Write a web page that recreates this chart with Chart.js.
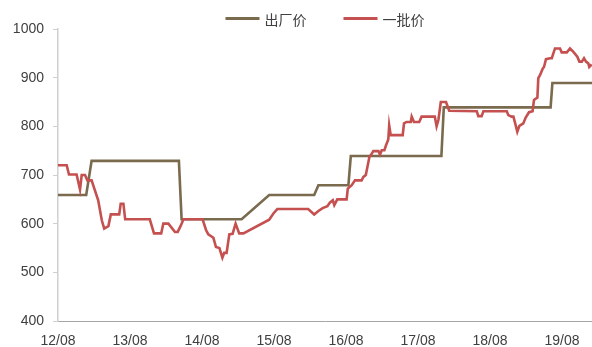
<!DOCTYPE html>
<html>
<head>
<meta charset="utf-8">
<script src="https://cdn.jsdelivr.net/npm/chart.js@4.4.1/dist/chart.umd.min.js"></script>
<style>
  html, body { margin: 0; padding: 0; background: #ffffff; }
  #wrap { width: 592px; height: 347px; }
</style>
</head>
<body>
<div id="wrap"><canvas id="c" width="592" height="347"></canvas></div>
<script>
// Series names shown in the legend
const seriesNames = ['出厂价', '一批价'];

// X-axis labels (yy/mm), one every 12 months starting 2012-08
const tickLabels = ['12/08', '13/08', '14/08', '15/08', '16/08', '17/08', '18/08', '19/08'];
const yTicks = [400, 500, 600, 700, 800, 900, 1000];

// 出厂价: months elapsed since 2012-08, price
const factoryMonths = [0, 4.7, 5.6, 20.15, 20.6, 30.6, 35.2, 42.7, 43.4, 48.4, 48.8, 63.9, 64.3, 82.1, 82.4, 89];
const factoryPrice  = [659, 659, 729, 729, 609, 609, 659, 659, 679, 679, 739, 739, 839, 839, 889, 889];

// 一批价: months elapsed since 2012-08, price
const wholesaleMonths = [
  0, 1.45, 1.83, 3.1, 3.67, 3.95, 4.5, 4.9, 5.6, 6.7, 7.3, 7.7, 8.4, 8.8, 10.2, 10.45, 10.9, 11.2,
  15.3, 16, 17.2, 17.55, 18.4, 19.5, 19.95, 20.5, 20.9,
  24.1, 24.67, 25.05, 25.9, 26.33, 26.9, 27.4, 27.7, 28.1, 28.55, 29.1, 29.6, 30.2, 30.9,
  35.2, 35.9, 36.55, 41.7, 42.7, 43.4, 44.1, 44.9, 45.3, 45.8,
  46.05, 46.55, 48.1, 48.3, 48.95, 49.5, 50.6, 50.9, 51.3, 51.9,
  52.2, 52.55, 53.4, 53.67, 53.95, 54.4, 54.67, 55.05, 55.2, 55.45,
  57.45, 57.67, 58.1, 58.8, 58.95, 59.33, 60.2, 60.6, 62.8, 63.1,
  63.4, 63.8, 64.67, 65.2, 69.8, 70.05, 70.6, 70.9, 74.8, 75.05,
  75.6, 75.9, 76.2, 76.55, 76.9, 77.55, 77.95, 78.5, 79.1, 79.33,
  79.9, 80.05, 80.33, 80.8, 81, 81.33, 82, 82.3, 82.83, 83.67,
  83.95, 84.8, 85.33, 85.9, 86.55, 86.9, 87.3, 87.67, 88, 88.4,
  88.55, 88.95
];
const wholesalePrice = [
  720, 720, 701, 701, 670, 700, 700, 689, 689, 648, 607, 590, 595, 619, 619, 641, 641, 609,
  609, 580, 580, 600, 600, 583, 583, 597, 609,
  609, 587, 578, 571, 552, 550, 530, 540, 540, 578, 579, 600, 580, 580,
  608, 621, 630, 630, 619, 626, 632, 636, 643, 648,
  638, 650, 650, 672, 679, 689, 689, 696, 700, 737,
  742, 749, 749, 742, 751, 751, 761, 773, 802, 782,
  782, 806, 809, 809, 820, 809, 809, 820, 820, 800,
  813, 850, 850, 832, 831, 821, 821, 831, 831, 823,
  820, 820, 806, 789, 801, 806, 818, 829, 831, 854,
  859, 899, 905, 919, 922, 938, 940, 940, 960, 960,
  952, 952, 960, 953, 943, 933, 933, 940, 933, 929,
  922, 927
];

const toPoints = (xs, ys) => xs.map((x, i) => ({ x: x, y: ys[i] }));

const TEXT_COLOR = '#404040';
const TICK_FONT = { family: '"Liberation Sans", Arial, sans-serif', size: 14 };

// Legend row above the plot: short line sample followed by the series name
const topLegend = {
  id: 'topLegend',
  afterDraw(chart) {
    const ctx = chart.ctx;
    const area = chart.chartArea;
    const lineLen = 34, gapText = 5, gapItem = 37, y = 18.5;
    ctx.save();
    ctx.font = '14px "Noto Sans CJK SC", sans-serif';
    const items = chart.data.datasets.map(ds => ({
      text: ds.label,
      color: ds.borderColor,
      w: lineLen + gapText + ctx.measureText(ds.label).width
    }));
    const total = items.reduce((s, it) => s + it.w, 0) + gapItem * (items.length - 1);
    let x = (area.left + area.right) / 2 - total / 2;
    items.forEach(it => {
      ctx.strokeStyle = it.color;
      ctx.lineWidth = 3;
      ctx.beginPath();
      ctx.moveTo(x, y);
      ctx.lineTo(x + lineLen, y);
      ctx.stroke();
      ctx.fillStyle = TEXT_COLOR;
      ctx.textBaseline = 'middle';
      ctx.textAlign = 'left';
      ctx.fillText(it.text, x + lineLen + gapText, y + 1);
      x += it.w + gapItem;
    });
    ctx.restore();
  }
};

new Chart(document.getElementById('c'), {
  type: 'line',
  data: {
    datasets: [
      {
        label: seriesNames[0],
        data: toPoints(factoryMonths, factoryPrice),
        borderColor: '#7a6a4e',
        backgroundColor: '#7a6a4e',
        borderWidth: 2.6,
        pointRadius: 0,
        tension: 0,
        order: 1
      },
      {
        label: seriesNames[1],
        data: toPoints(wholesaleMonths, wholesalePrice),
        borderColor: '#c4504f',
        backgroundColor: '#c4504f',
        borderWidth: 2.6,
        pointRadius: 0,
        tension: 0,
        order: 0
      }
    ]
  },
  options: {
    responsive: false,
    devicePixelRatio: 1,
    animation: false,
    layout: { padding: { top: 29, left: 0, right: 0, bottom: 0 } },
    plugins: {
      legend: { display: false },
      tooltip: { enabled: false }
    },
    scales: {
      x: {
        type: 'linear',
        min: 0,
        max: 89,
        afterBuildTicks: s => { s.ticks = tickLabels.map((_, i) => ({ value: i * 12 })); },
        ticks: {
          callback: v => tickLabels[Math.round(v / 12)],
          autoSkip: false,
          maxRotation: 0,
          padding: 12,
          font: TICK_FONT,
          color: TEXT_COLOR
        },
        grid: { display: false, drawTicks: false },
        border: { display: true, color: '#a6a6a6', width: 1 },
        afterFit: s => { s.height = 26; }
      },
      y: {
        min: 400,
        max: 1000,
        afterBuildTicks: s => { s.ticks = yTicks.map(v => ({ value: v })); },
        ticks: {
          callback: v => String(v),
          padding: 9,
          font: TICK_FONT,
          color: TEXT_COLOR
        },
        grid: { drawOnChartArea: false, drawTicks: true, tickLength: 5, color: '#d0d0d0' },
        border: { display: true, color: '#d0d0d0', width: 1.5 },
        afterFit: s => { s.width = 58; }
      }
    }
  },
  plugins: [topLegend]
});
</script>
</body>
</html>
